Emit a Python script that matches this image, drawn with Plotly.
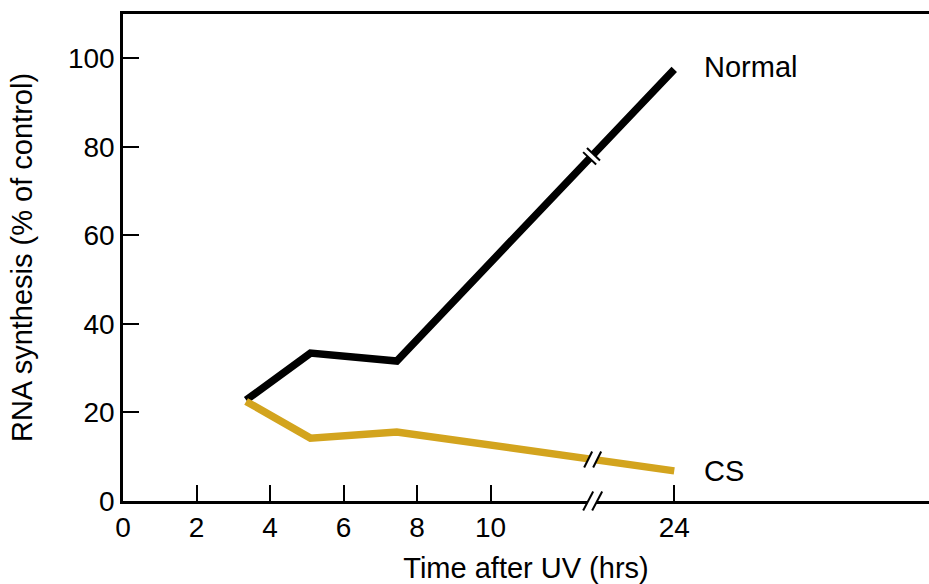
import plotly.graph_objects as go

# ---- data ----
hours = [3.35, 5.1, 7.45, 24]
normal = [22.8, 33.4, 31.6, 97.5]
cs = [22.5, 14.2, 15.6, 6.8]
x_tick_hours = [0, 2, 4, 6, 8, 10, 24]
x_tick_labels = ["0", "2", "4", "6", "8", "10", "24"]
y_ticks = [0, 20, 40, 60, 80, 100]
series_names = ["Normal", "CS"]

# broken axis: 10..24 h compressed into 10..15 axis units
def pos(h):
    return h if h <= 10 else 10 + (h - 10) * 5.0 / 14.0

BREAK_POS = 12.78
FONT = "Liberation Sans, Arial, Helvetica, sans-serif"
GOLD = "#D3A41E"

# pixel scale (for break marks)
W, H = 929, 584
L, R, T, B = 123, 0, 14, 83
XR = [0, (W - L - R) / 36.75]
YR = [0, 110]
PX_X = (XR[1] - XR[0]) / (W - L - R)
PX_Y = (YR[1] - YR[0]) / (H - T - B)
PX_PAPER = 1.0 / (H - T - B)

xp = [pos(h) for h in hours]

fig = go.Figure()
fig.add_trace(go.Scatter(x=xp, y=normal, mode="lines", line=dict(color="black", width=7.5),
                         name=series_names[0], showlegend=False))
fig.add_trace(go.Scatter(x=xp, y=cs, mode="lines", line=dict(color=GOLD, width=7.5),
                         name=series_names[1], showlegend=False))

shapes = []

def interp(xs, ys, x):
    for i in range(len(xs) - 1):
        if xs[i] <= x <= xs[i + 1]:
            t = (x - xs[i]) / (xs[i + 1] - xs[i])
            return ys[i] + t * (ys[i + 1] - ys[i])
    return ys[-1]

# Normal line break: gap + two perpendicular bars
nx = BREAK_POS - 0.03
ny = interp(xp, normal, nx)
dxp = (xp[3] - xp[2]) / PX_X
dyp = (normal[3] - normal[2]) / PX_Y
ln = (dxp ** 2 + dyp ** 2) ** 0.5
ux, uy = dxp / ln, dyp / ln
px_, py_ = -uy, ux
g = 2.8
shapes.append(dict(type="line", xref="x", yref="y",
                   x0=nx - g * ux * PX_X, y0=ny - g * uy * PX_Y,
                   x1=nx + g * ux * PX_X, y1=ny + g * uy * PX_Y,
                   line=dict(color="white", width=11)))
for s in (-g, g):
    cx, cy = nx + s * ux * PX_X, ny + s * uy * PX_Y
    shapes.append(dict(type="line", xref="x", yref="y",
                       x0=cx - 9 * px_ * PX_X, y0=cy - 9 * py_ * PX_Y,
                       x1=cx + 9 * px_ * PX_X, y1=cy + 9 * py_ * PX_Y,
                       line=dict(color="black", width=2)))

# slashes "//" helper (offsets in px, scaled to data/paper units)
def slash_path(cx, cy, sx, sy, a, hx, hy):
    pts = [(-a - hx, -hy), (-a + hx, hy), (a + hx, hy), (a - hx, -hy)]
    return "M " + " L ".join(f"{cx + dx * sx},{cy + dy * sy}" for dx, dy in pts) + " Z"

def add_break(cy, yref, sy, a, hx, hy):
    shapes.append(dict(type="path", xref="x", yref=yref,
                       path=slash_path(BREAK_POS, cy, PX_X, sy, a, hx, hy),
                       fillcolor="white", line=dict(width=0)))
    for s in (-a, a):
        shapes.append(dict(type="line", xref="x", yref=yref,
                           x0=BREAK_POS + (s - hx) * PX_X, y0=cy - hy * sy,
                           x1=BREAK_POS + (s + hx) * PX_X, y1=cy + hy * sy,
                           line=dict(color="black", width=2)))

# CS line break
add_break(interp(xp, cs, BREAK_POS), "y", PX_Y, 4.5, 4, 8)
# x-axis break
add_break(0, "paper", PX_PAPER, 4.5, 5, 9.5)

annotations = [
    dict(x=pos(24) + 0.75, y=normal[-1] + 0.5, text=series_names[0], showarrow=False, xanchor="left",
         yanchor="middle", font=dict(size=29, color="black", family=FONT)),
    dict(x=pos(24) + 0.75, y=cs[-1], text=series_names[1], showarrow=False, xanchor="left",
         yanchor="middle", font=dict(size=29, color="black", family=FONT)),
]

fig.update_layout(
    width=W, height=H,
    margin=dict(l=L, r=R, t=T, b=B, autoexpand=False),
    paper_bgcolor="white", plot_bgcolor="white",
    font=dict(family=FONT, size=28, color="black"),
    shapes=shapes, annotations=annotations,
    showlegend=False,
)
fig.update_xaxes(
    range=XR, tickmode="array", tickvals=[pos(h) for h in x_tick_hours], ticktext=x_tick_labels,
    ticks="inside", ticklen=16, tickwidth=2, tickcolor="black",
    showline=True, linecolor="black", linewidth=2.5, mirror=True,
    showgrid=False, zeroline=False, automargin=False,
    tickfont=dict(size=28), ticklabelstandoff=0,
    title=dict(text="Time after UV (hrs)", font=dict(size=29), standoff=16),
)
fig.update_yaxes(
    range=YR, tickmode="array", tickvals=y_ticks,
    ticks="inside", ticklen=16, tickwidth=2, tickcolor="black",
    showline=True, linecolor="black", linewidth=2.5,
    showgrid=False, zeroline=False, automargin=False,
    tickfont=dict(size=28), ticklabelstandoff=0,
    title=dict(text="RNA synthesis (% of control)", font=dict(size=29), standoff=27),
)

fig.write_html("out.html", config={"displayModeBar": False},
               post_script="document.body.style.margin='0';")
